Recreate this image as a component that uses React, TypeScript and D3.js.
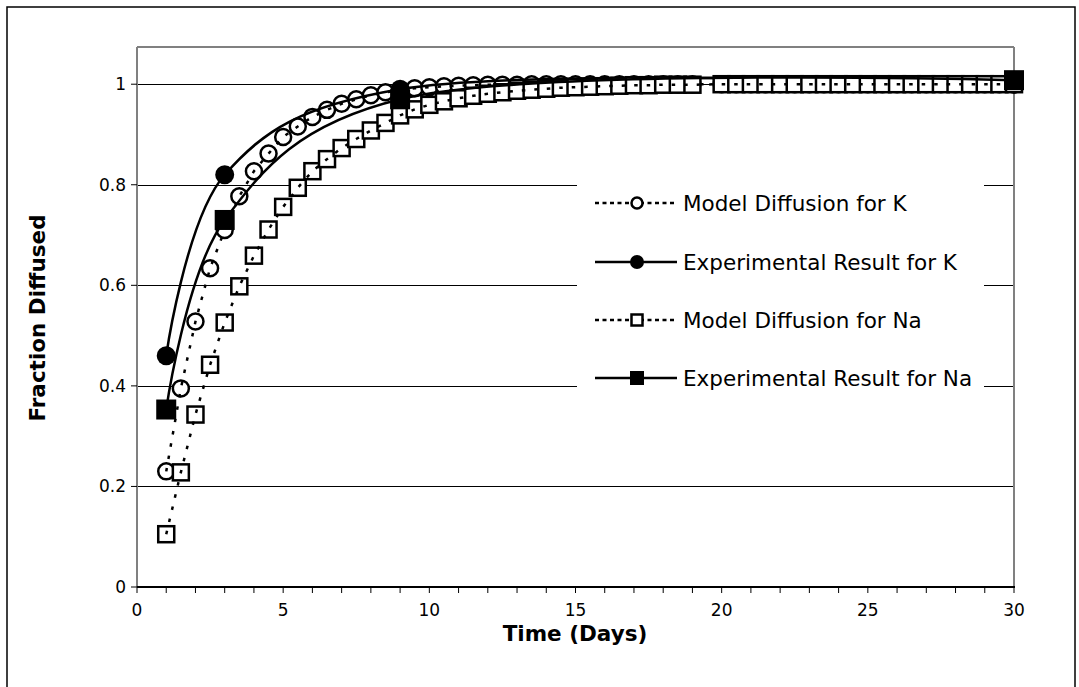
import React from "react";
import * as d3 from "d3";

const modelTime = [
  1, 1.5, 2, 2.5, 3, 3.5, 4, 4.5, 5, 5.5, 6, 6.5, 7, 7.5, 8, 8.5, 9, 9.5, 10, 10.5,
  11, 11.5, 12, 12.5, 13, 13.5, 14, 14.5, 15, 15.5, 16, 16.5, 17, 17.5, 18, 18.5, 19,
  20, 20.5, 21, 21.5, 22, 22.5, 23, 23.5, 24, 24.5, 25, 25.5, 26, 26.5, 27, 27.5, 28,
  28.5, 29, 29.5, 30,
];
const modelK = [
  0.23, 0.395, 0.528, 0.634, 0.71, 0.777, 0.827, 0.862, 0.895, 0.916, 0.935, 0.949,
  0.961, 0.97, 0.978, 0.984, 0.988, 0.992, 0.994, 0.996, 0.997, 0.998, 0.999, 0.999,
  0.999, 1, 1, 1, 1, 1, 1, 1, 1, 1, 1, 1, 1,
  1, 1, 1, 1, 1, 1, 1, 1, 1, 1, 1, 1, 1, 1, 1, 1, 1, 1, 1, 1, 1,
];
const modelNa = [
  0.105, 0.228, 0.343, 0.442, 0.526, 0.598, 0.659, 0.711, 0.756, 0.794, 0.827, 0.851,
  0.873, 0.891, 0.908, 0.923, 0.938, 0.95, 0.959, 0.966, 0.972, 0.977, 0.981, 0.984,
  0.987, 0.989, 0.991, 0.993, 0.994, 0.995, 0.996, 0.997, 0.998, 0.998, 0.999, 0.999, 0.999,
  1, 1, 1, 1, 1, 1, 1, 1, 1, 1, 1, 1, 1, 1, 1, 1, 1, 1, 1, 1, 1,
];
const expTime = [1, 3, 9, 30];
const expK = [0.46, 0.82, 0.99, 1.0];
const expNa = [0.353, 0.73, 0.97, 1.008];

const xTicks = [0, 5, 10, 15, 20, 25, 30];
const xMinorTicks = d3.range(0, 31, 1);
const yTicks = [0, 0.2, 0.4, 0.6, 0.8, 1];
const yTickLabels = ["0", "0.2", "0.4", "0.6", "0.8", "1"];

const legendItems = [
  { label: "Model Diffusion for K", marker: "circle", filled: false, dashed: true },
  { label: "Experimental Result for K", marker: "circle", filled: true, dashed: false },
  { label: "Model Diffusion for Na", marker: "square", filled: false, dashed: true },
  { label: "Experimental Result for Na", marker: "square", filled: true, dashed: false },
];

const W = 1079;
const H = 687;
const PL = 137, PR = 1014, PT = 47, PB = 587;
const FONT = "Verdana, 'DejaVu Sans', sans-serif";
const DASH = "3.5,9";

export default function App() {
  const x = d3.scaleLinear().domain([0, 30]).range([PL, PR]);
  const y = d3.scaleLinear().domain([0, 1.074]).range([PB, PT]);

  const straight = d3.line<[number, number]>().x((d) => x(d[0])).y((d) => y(d[1]));
  const smooth = d3
    .line<[number, number]>()
    .x((d) => x(d[0]))
    .y((d) => y(d[1]))
    .curve(d3.curveCatmullRom.alpha(0.25));

  const mK: [number, number][] = modelTime.map((t, i) => [t, modelK[i]]);
  const mNa: [number, number][] = modelTime.map((t, i) => [t, modelNa[i]]);
  const eK: [number, number][] = expTime.map((t, i) => [t, expK[i]]);
  const eNa: [number, number][] = expTime.map((t, i) => [t, expNa[i]]);

  const openCircle = (p: [number, number], i: number) => (
    <circle key={i} cx={x(p[0])} cy={y(p[1])} r={8} fill="#fff" stroke="#000" strokeWidth={2.5} />
  );
  const openSquare = (p: [number, number], i: number) => (
    <rect key={i} x={x(p[0]) - 8} y={y(p[1]) - 8} width={16} height={16} fill="#fff" stroke="#000" strokeWidth={2.5} />
  );
  const fullCircle = (p: [number, number], i: number) => (
    <circle key={i} cx={x(p[0])} cy={y(p[1])} r={9.5} fill="#000" />
  );
  const fullSquare = (p: [number, number], i: number) => (
    <rect key={i} x={x(p[0]) - 10} y={y(p[1]) - 10} width={20} height={20} fill="#000" />
  );

  const legendRows = [203, 262, 320, 378];

  return (
    <svg
      width={W}
      height={H}
      style={{ position: "absolute", left: 0, top: 0, background: "#fff" }}
      fontFamily={FONT}
    >
      <rect x={0} y={0} width={W} height={H} fill="#fff" />
      <rect x={7} y={7} width={1068} height={700} fill="none" stroke="#000" strokeWidth={1.5} />

      {/* gridlines */}
      {yTicks.slice(1).map((v) => (
        <line key={v} x1={PL} x2={PR} y1={Math.round(y(v)) + 0.5} y2={Math.round(y(v)) + 0.5} stroke="#000" strokeWidth={1} />
      ))}

      {/* legend background hides gridlines */}
      <rect x={577} y={168} width={407} height={235} fill="#fff" />

      {/* plot border */}
      <line x1={PL} x2={PR} y1={PT} y2={PT} stroke="#808080" strokeWidth={2} />
      <line x1={PR} x2={PR} y1={PT} y2={PB} stroke="#808080" strokeWidth={2} />
      <line x1={PL} x2={PL} y1={PT} y2={PB} stroke="#808080" strokeWidth={2} />
      <line x1={PL} x2={PR + 1} y1={PB} y2={PB} stroke="#000" strokeWidth={2} />

      {/* axis ticks */}
      {xMinorTicks.map((t) => (
        <line key={"mx" + t} x1={x(t)} x2={x(t)} y1={PB} y2={PB + 6} stroke="#000" strokeWidth={1} />
      ))}
      {yTicks.map((v) => (
        <line key={"ty" + v} x1={PL - 6} x2={PL} y1={y(v)} y2={y(v)} stroke="#000" strokeWidth={1} />
      ))}
      {xTicks.map((t) => (
        <text key={"lx" + t} x={x(t)} y={616} textAnchor="middle" fontSize={17} fill="#000">
          {t}
        </text>
      ))}
      {yTicks.map((v, i) => (
        <text key={"ly" + v} x={126} y={y(v) + 6} textAnchor="end" fontSize={17} fill="#000">
          {yTickLabels[i]}
        </text>
      ))}

      <text x={575} y={641} textAnchor="middle" fontSize={21.5} fontWeight="bold">
        Time (Days)
      </text>
      <text transform={`translate(45,318) rotate(-90)`} textAnchor="middle" fontSize={21.5} fontWeight="bold">
        Fraction Diffused
      </text>

      {/* series 1: model K */}
      <g>{mK.map(openCircle)}</g>
      <path d={straight(mK) || ""} fill="none" stroke="#000" strokeWidth={2.5} strokeDasharray={DASH} />

      {/* series 2: experimental K */}
      <path d={smooth(eK) || ""} fill="none" stroke="#000" strokeWidth={2.5} />
      <g>{eK.map(fullCircle)}</g>

      {/* series 3: model Na */}
      <g>{mNa.map(openSquare)}</g>
      <path d={straight(mNa) || ""} fill="none" stroke="#000" strokeWidth={2.5} strokeDasharray={DASH} />

      {/* series 4: experimental Na */}
      <path d={smooth(eNa) || ""} fill="none" stroke="#000" strokeWidth={2.5} />
      <g>{eNa.map(fullSquare)}</g>

      {/* legend */}
      {legendItems.map((it, i) => {
        const ly = legendRows[i];
        const mx = 637;
        return (
          <g key={it.label}>
            <line x1={595} x2={677} y1={ly} y2={ly} stroke="#000" strokeWidth={2.5} strokeDasharray={it.dashed ? "4,3.5" : undefined} />
            {it.marker === "circle" ? (
              it.filled ? (
                <circle cx={mx} cy={ly} r={7} fill="#000" />
              ) : (
                <circle cx={mx} cy={ly} r={5.5} fill="#fff" stroke="#000" strokeWidth={2.5} />
              )
            ) : it.filled ? (
              <rect x={mx - 7} y={ly - 7} width={14} height={14} fill="#000" />
            ) : (
              <rect x={mx - 5.5} y={ly - 5.5} width={11} height={11} fill="#fff" stroke="#000" strokeWidth={2.5} />
            )}
            <text x={683} y={ly + 8} fontSize={21.5} fill="#000">
              {it.label}
            </text>
          </g>
        );
      })}
    </svg>
  );
}
